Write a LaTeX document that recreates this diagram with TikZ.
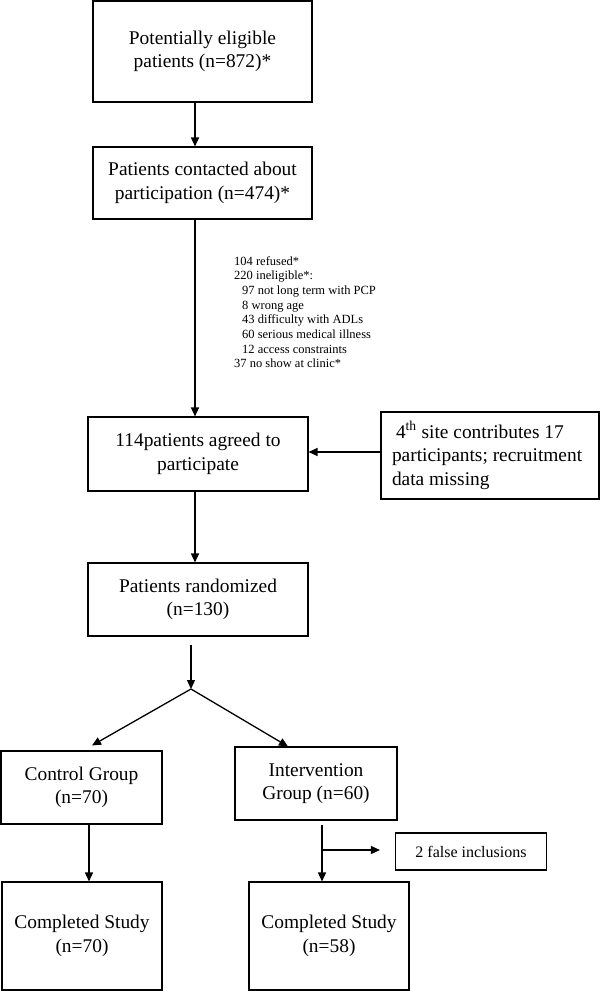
\documentclass[tikz,border=0pt]{standalone}
\usepackage{fontspec}
\setmainfont{Liberation Serif}
\usetikzlibrary{arrows.meta,calc}
\begin{document}
\begin{tikzpicture}[x=1pt,y=-1pt]
\tikzset{
 fbox/.style={draw=black, line width=1.1pt, align=center, inner sep=0pt, font=\fontsize{19.4}{23.5}\selectfont},
 arr/.style={line width=1.3pt, -{Triangle[length=9pt,width=8pt]}},
 excl/.style={align=flush left, inner sep=0pt, font=\fontsize{12.5}{14.7}\selectfont, anchor=north west}
}
\useasboundingbox (0,0) rectangle (600,991);

\node[fbox, minimum width=219pt, minimum height=101pt] (b1) at (202.5,51.5) {Potentially eligible\\patients (n=872)*};
\node[fbox, minimum width=219pt, minimum height=72pt] (b2) at (202.5,183) {Patients contacted about\\participation (n=474)*};
\node[fbox, minimum width=220pt, minimum height=74pt] (b3) at (198,454) {114patients agreed to\\participate};
\node[fbox, minimum width=218pt, minimum height=87pt, align=flush left, text width=196pt, inner xsep=11pt] (side) at (490,455.5) {\hspace*{4pt}4\textsuperscript{th} site contributes 17\\participants; recruitment\\data missing};
\node[fbox, minimum width=220pt, minimum height=73pt] (b4) at (198,599.5) {Patients randomized\\(n=130)};
\node[fbox, minimum width=161pt, minimum height=73pt] (ctrl) at (81.5,787.5) {Control Group\\(n=70)};
\node[fbox, minimum width=162pt, minimum height=73pt] (interv) at (316,783.5) {Intervention\\Group (n=60)};
\node[fbox, minimum width=160pt, minimum height=108pt] (comp1) at (82,936) {Completed Study\\(n=70)};
\node[fbox, minimum width=160pt, minimum height=108pt] (comp2) at (329,936) {Completed Study\\(n=58)};
\node[fbox, minimum width=151pt, minimum height=37pt, font=\fontsize{16}{19}\selectfont] (false) at (471,851.5) {2 false inclusions};

\node[excl] (excltext) at (234,256) {104 refused*\\
220 ineligible*:\\
\hspace*{8pt}97 not long term with PCP\\
\hspace*{8pt}8 wrong age\\
\hspace*{8pt}43 difficulty with ADLs\\
\hspace*{8pt}60 serious medical illness\\
\hspace*{8pt}12 access constraints\\
37 no show at clinic*};

\coordinate (J) at (191,689);
\coordinate (B) at (322,850);

\draw[arr] ([xshift=-7.5pt]b1.south) -- ([xshift=-7.5pt]b2.north);
\draw[arr] ([xshift=-7.5pt]b2.south) -- ([xshift=-7.5pt]b2.south |- b3.north);
\draw[arr] ([yshift=3.5pt]side.west) -- ([yshift=3.5pt]side.west -| b3.east);
\draw[arr] ([xshift=-3pt]b3.south) -- ([xshift=-3pt]b4.north);
\draw[arr] ([yshift=-8pt]b4.south -| J) -- (J);
\draw[arr] (J) -- ([xshift=10.5pt,yshift=5pt]ctrl.north);
\draw[arr] (J) -- ([xshift=-28pt]interv.north);
\draw[arr] ([xshift=7.5pt]ctrl.south) -- ([xshift=7.5pt]ctrl.south |- comp1.north);
\draw[arr] ([xshift=6pt,yshift=-4pt]interv.south) -- ([xshift=6pt]interv.south |- comp2.north);
\draw[arr] (B) -- ($(B -| false.west)+(-15,0)$);
\end{tikzpicture}
\end{document}
